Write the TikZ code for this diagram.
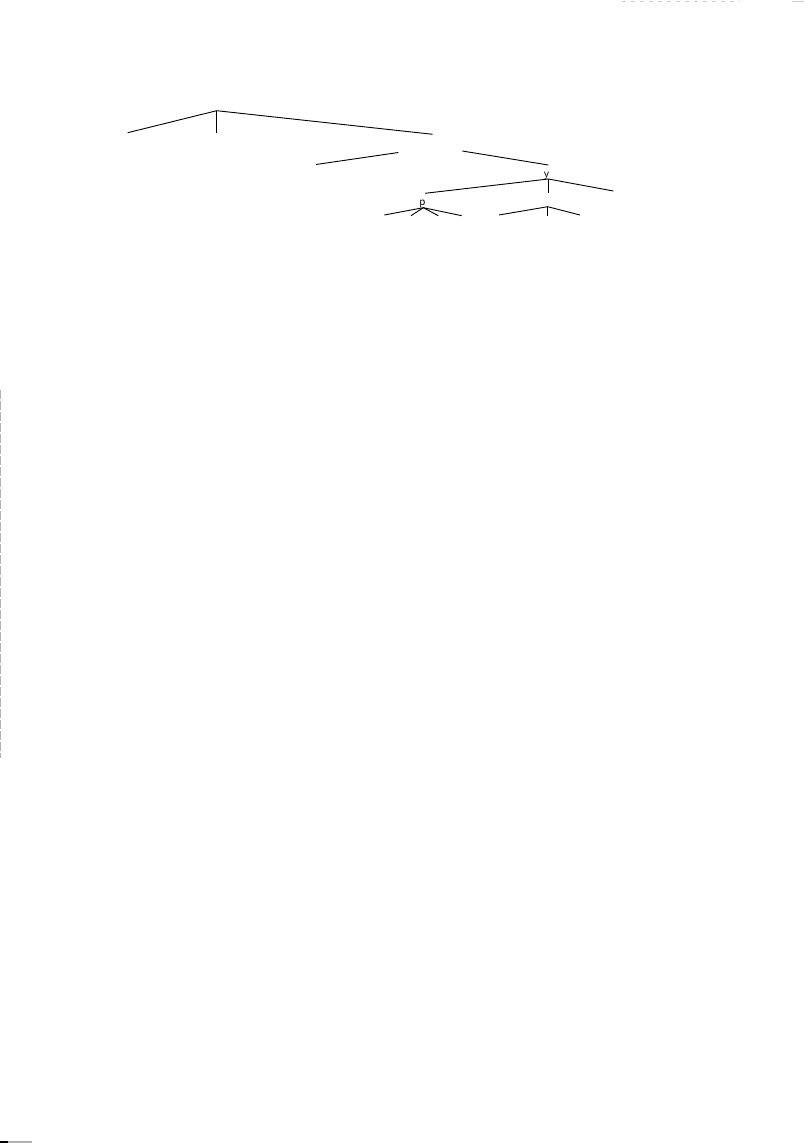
\documentclass[tikz,border=0pt]{standalone}
\usepackage{tikz}
\usetikzlibrary{positioning,calc}

\begin{document}
\begin{tikzpicture}[x=1pt,y=-1pt,
    branch/.style={black, line width=0.9pt},
    leaf/.style={font=\sffamily\large, inner sep=0pt},
    scan/.style={gray!60, line width=1.2pt}]
    \useasboundingbox (0,0) rectangle (804,1143);
    % top tree
    \coordinate (root) at (216.7,110.7);
    \coordinate (rootL) at (127.7,132.7);
    \coordinate (rootD) at (216.7,133.3);
    \coordinate (rootR) at (432.7,134.3);
    \draw [branch] (rootL) -- (root) -- (rootR); \draw [branch] (root) -- (rootD);
    % loose segments
    \coordinate (segA) at (316,164.5); \coordinate (segB) at (398.3,152.5);
    \coordinate (segC) at (462.3,151); \coordinate (segD) at (548.3,165);
    \draw [branch] (segA) -- (segB); \draw [branch] (segC) -- (segD);
    % subtree y
    \coordinate (y) at (548.3,179);
    \node [leaf, anchor=south] (ylab) at (546.5,180) {y};
    \coordinate (yL) at (425,193.3); \coordinate (yR) at (613.3,191); \coordinate (yD) at (548.3,193.3);
    \draw [branch] (yL) -- (y) -- (yR); \draw [branch] (y) -- (yD);
    % subtree p
    \coordinate (p) at (423.3,207.7);
    \node [leaf, anchor=base] (plab) at (422.5,205.5) {p};
    \coordinate (pL) at (384.3,215); \coordinate (pR) at (461.7,215.7);
    \coordinate (pa) at (411,215.7); \coordinate (pb) at (438.3,215.7);
    \draw [branch] (pL) -- (p) -- (pR);
    \draw [branch] (pa) -- (p) -- (pb);
    % subtree under y
    \coordinate (q) at (547.7,206.7);
    \coordinate (qL) at (499,215); \coordinate (qR) at (580,215); \coordinate (qD) at (547.7,215.7);
    \draw [branch] (qL) -- (q) -- (qR); \draw [branch] (q) -- (qD);
    % scan edges
    \draw [scan, gray!40, dash pattern=on 4pt off 5pt] (622,1.5) -- (740,1.5);
    \draw [scan, gray!40] (792,1.5) -- (804,1.5);
    \draw [scan, dash pattern=on 9pt off 2pt] (0.6,390) -- (0.6,758);
    \draw [black, line width=2pt] (0,1142) -- (8,1142);
    \draw [scan, line width=2pt] (8,1142) -- (32,1142);
\end{tikzpicture}
\end{document}
